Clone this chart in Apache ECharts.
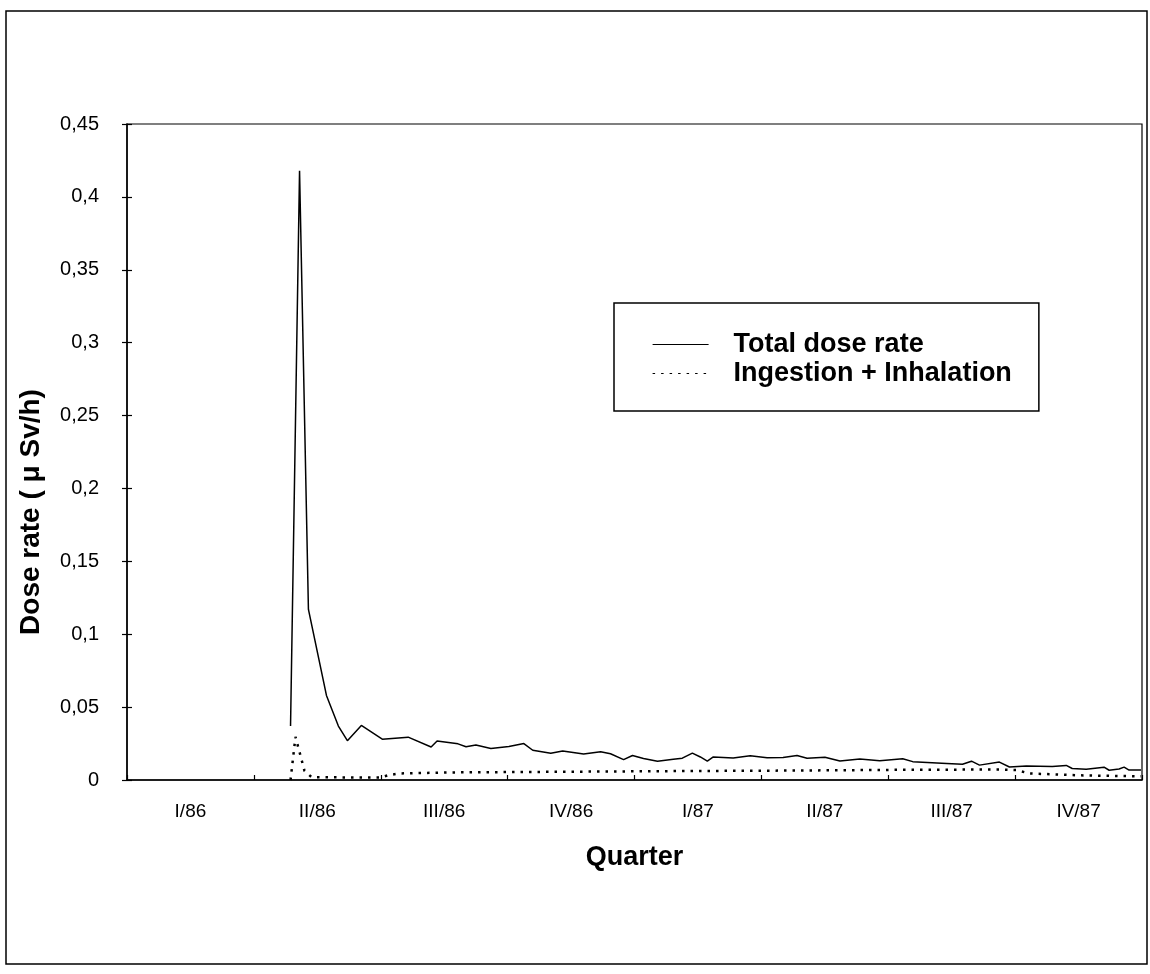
<!DOCTYPE html>
<html>
<head>
<meta charset="utf-8">
<script src="https://cdn.jsdelivr.net/npm/echarts@6/dist/echarts.min.js"></script>
<style>
  html, body { margin: 0; padding: 0; background: #fff; }
  #chart { width: 1150px; height: 974px; }
</style>
</head>
<body>
<div id="chart"></div>
<script>
// quarter labels (category axis, one slot per quarter)
var quarters = ['I/86', 'II/86', 'III/86', 'IV/86', 'I/87', 'II/87', 'III/87', 'IV/87'];

// total dose rate: position in quarters from start of I/86, value in µSv/h
var totalQ = [1.289, 1.360, 1.430, 1.572, 1.666, 1.737, 1.847, 2.012, 2.216, 2.397,
    2.444, 2.609, 2.672, 2.750, 2.868, 3.010, 3.128, 3.198, 3.340, 3.434,
    3.599, 3.733, 3.811, 3.914, 3.984, 4.071, 4.181, 4.306, 4.377, 4.456,
    4.519, 4.574, 4.621, 4.778, 4.912, 5.045, 5.171, 5.281, 5.360, 5.501,
    5.619, 5.776, 5.933, 6.114, 6.193, 6.460, 6.585, 6.656, 6.719, 6.876,
    6.955, 7.088, 7.293, 7.403, 7.450, 7.560, 7.701, 7.741, 7.819, 7.859,
    7.898, 7.992];
var totalRate = [0.037, 0.418, 0.117, 0.058, 0.037, 0.027, 0.0374, 0.028, 0.0294, 0.0226,
    0.0268, 0.0248, 0.0228, 0.024, 0.0216, 0.023, 0.025, 0.0204, 0.0184, 0.0199,
    0.0178, 0.0194, 0.018, 0.014, 0.0168, 0.0148, 0.0128, 0.0142, 0.015, 0.0184,
    0.0158, 0.013, 0.0158, 0.0151, 0.0166, 0.0153, 0.0154, 0.0168, 0.0149, 0.0156,
    0.013, 0.0144, 0.0132, 0.0146, 0.0126, 0.0114, 0.0108, 0.0129, 0.0102, 0.0123,
    0.0089, 0.0096, 0.0092, 0.01, 0.0079, 0.0073, 0.0088, 0.0067, 0.0075, 0.0088,
    0.0068, 0.0068];

// ingestion + inhalation
var ingQ = [1.289, 1.328, 1.399, 1.454, 1.690, 2.004, 2.059, 2.145, 2.554, 3.104,
    3.733, 4.519, 5.305, 6.090, 6.876, 7.010, 7.112, 7.505, 7.992];
var ingRate = [0, 0.0296, 0.0063, 0.002, 0.0018, 0.0018, 0.0033, 0.0045, 0.0052, 0.0055,
    0.0058, 0.0062, 0.0065, 0.007, 0.0072, 0.0068, 0.0045, 0.0032, 0.0025];

function pairs(xs, ys) {
    var out = [];
    for (var i = 0; i < xs.length; i++) out.push([xs[i], ys[i]]);
    return out;
}

var FONT = '"Liberation Sans", Arial, sans-serif';

var option = {
    animation: false,
    backgroundColor: '#fff',
    textStyle: { fontFamily: FONT, color: '#000' },
    graphic: [{
        type: 'rect',
        shape: { x: 6, y: 11, width: 1141, height: 953 },
        style: { fill: 'none', stroke: '#000', lineWidth: 1.5 },
        silent: true
    }],
    grid: {
        left: 127, top: 124, width: 1015, height: 656,
        show: true, borderColor: '#000', borderWidth: 1.2, backgroundColor: 'transparent'
    },
    legend: {
        orient: 'vertical',
        left: 614, top: 303,
        padding: [28, 27, 24, 38],
        itemGap: 2,
        itemWidth: 56,
        itemHeight: 14,
        borderColor: '#000',
        borderWidth: 1.5,
        itemStyle: { opacity: 0 },
        lineStyle: { width: 1.2 },
        textStyle: { fontFamily: FONT, fontSize: 27, fontWeight: 'bold', color: '#000', padding: [0, 0, 0, 20] },
        data: ['Total dose rate', 'Ingestion + Inhalation']
    },
    xAxis: [{
        type: 'category',
        data: quarters,
        boundaryGap: true,
        position: 'bottom',
        name: 'Quarter',
        nameLocation: 'middle',
        nameGap: 64,
        nameTextStyle: { fontFamily: FONT, fontSize: 27, fontWeight: 'bold', color: '#000' },
        axisLine: { lineStyle: { color: '#000', width: 1.5 } },
        axisTick: { alignWithLabel: false, length: 6, lineStyle: { color: '#000', width: 1.2 } },
        axisLabel: { color: '#000', fontSize: 19, margin: 22, fontFamily: FONT },
        splitLine: { show: false }
    }, {
        type: 'value',
        min: 0, max: 8, interval: 1,
        position: 'bottom',
        axisLine: { show: false },
        axisTick: { show: true, inside: true, length: 5, lineStyle: { color: '#000', width: 1.2 } },
        axisLabel: { show: false },
        splitLine: { show: false }
    }],
    yAxis: [{
        type: 'value',
        min: 0, max: 0.45, interval: 0.05,
        name: 'Dose rate ( \u03bc Sv/h)',
        nameLocation: 'middle',
        nameGap: 82,
        nameTextStyle: { fontFamily: FONT, fontSize: 28, fontWeight: 'bold', color: '#000', padding: [0, 120, 0, 0] },
        axisLine: { show: true, lineStyle: { color: '#000', width: 1.5 } },
        axisTick: { show: true, length: 5, lineStyle: { color: '#000', width: 1.2 } },
        axisLabel: {
            color: '#000', fontSize: 20, margin: 28, fontFamily: FONT,
            formatter: function (v) { return String(+v.toFixed(2)).replace('.', ','); }
        },
        splitLine: { show: false }
    }, {
        type: 'value',
        min: 0, max: 0.45, interval: 0.05,
        position: 'left',
        axisLine: { show: false },
        axisTick: { show: true, inside: true, length: 5, lineStyle: { color: '#000', width: 1.2 } },
        axisLabel: { show: false },
        splitLine: { show: false }
    }],
    series: [{
        name: 'Total dose rate',
        type: 'line',
        xAxisIndex: 1,
        yAxisIndex: 0,
        symbol: 'none',
        data: pairs(totalQ, totalRate),
        lineStyle: { color: '#000', width: 1.5 },
        itemStyle: { color: '#000' }
    }, {
        name: 'Ingestion + Inhalation',
        type: 'line',
        xAxisIndex: 1,
        yAxisIndex: 0,
        symbol: 'none',
        data: pairs(ingQ, ingRate),
        lineStyle: { color: '#000', width: 2.5, type: [2.5, 6] },
        itemStyle: { color: '#000' }
    }]
};

var chart = echarts.init(document.getElementById('chart'));
chart.setOption(option);
</script>
</body>
</html>
